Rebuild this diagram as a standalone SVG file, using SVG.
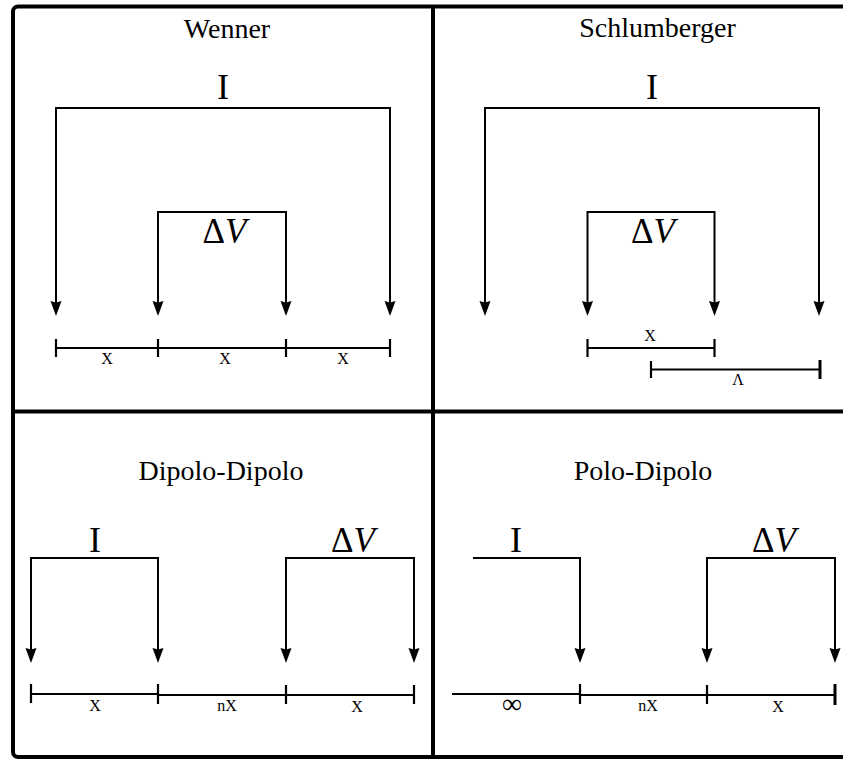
<svg xmlns="http://www.w3.org/2000/svg" width="843" height="759" viewBox="0 0 843 759">
<style>
.frame{fill:none;stroke:#000;stroke-width:4}
.wire{fill:none;stroke:#000;stroke-width:2}
.bar{fill:none;stroke:#000;stroke-width:2.2}
.title{font-family:"Liberation Serif","Times New Roman",serif;font-size:28px;text-anchor:middle;fill:#000}
.big{font-family:"Liberation Serif","Times New Roman",serif;font-size:36px;text-anchor:middle;fill:#000}
.dv{font-family:"Liberation Serif","Times New Roman",serif;font-size:35px;text-anchor:middle;fill:#000}
.lbl{font-family:"Liberation Serif","Times New Roman",serif;font-size:16px;text-anchor:middle;fill:#000}
</style>
<defs>
<marker id="ah" markerUnits="userSpaceOnUse" markerWidth="16" markerHeight="12" refX="9" refY="6" orient="auto-start-reverse" viewBox="0 0 16 12">
<path d="M0,0.5 L15,6 L0,11.5 L1.5,6 Z" fill="#000"/>
</marker>
</defs>
<g id="frame">
<rect class="frame" x="13" y="6.5" width="860" height="750.5" rx="5"/>
<line class="frame" x1="433" y1="6.5" x2="433" y2="757"/>
<line class="frame" x1="13" y1="411.5" x2="843" y2="411.5"/>
</g>
<g id="wenner">
<text class="title" x="227" y="38">Wenner</text>
<text class="big" x="223" y="99">I</text>
<text class="dv" x="224.5" y="243">Δ<tspan font-style="italic">V</tspan></text>
<text class="lbl" x="107" y="364">X</text>
<text class="lbl" x="225" y="364">X</text>
<text class="lbl" x="343" y="364">X</text>
</g>
<g id="schlumberger">
<text class="title" x="657.5" y="37">Schlumberger</text>
<text class="big" x="652" y="99">I</text>
<text class="dv" x="653" y="243">Δ<tspan font-style="italic">V</tspan></text>
<text class="lbl" x="650" y="341">X</text>
<text class="lbl" x="738" y="385">Λ</text>
</g>
<g id="dipolo-dipolo">
<text class="title" x="221" y="480">Dipolo-Dipolo</text>
<text class="big" x="95" y="552">I</text>
<text class="dv" x="353" y="552">Δ<tspan font-style="italic">V</tspan></text>
<text class="lbl" x="95" y="711">X</text>
<text class="lbl" x="227" y="711">nX</text>
<text class="lbl" x="357" y="712">X</text>
</g>
<g id="polo-dipolo">
<text class="title" x="643" y="480">Polo-Dipolo</text>
<text class="big" x="516" y="552">I</text>
<text class="dv" x="774" y="552">Δ<tspan font-style="italic">V</tspan></text>
<text class="lbl" x="512" y="713" style="font-size:28px">∞</text>
<text class="lbl" x="648" y="711">nX</text>
<text class="lbl" x="778" y="712">X</text>
</g>
<g id="connectors">
<path class="wire" d="M56,310 V108 H390 V310" marker-start="url(#ah)" marker-end="url(#ah)"/>
<path class="wire" d="M158,310 V212 H286 V310" marker-start="url(#ah)" marker-end="url(#ah)"/>
<path class="bar" d="M56,348 H390 M56,339 V357 M158,339 V357 M286,339 V357 M390,339 V357"/>
<path class="wire" d="M485,310 V108 H819 V310" marker-start="url(#ah)" marker-end="url(#ah)"/>
<path class="wire" d="M587.5,310 V212 H714.5 V310" marker-start="url(#ah)" marker-end="url(#ah)"/>
<path class="bar" d="M587.5,348 H714.5 M587.5,339 V357 M714.5,339 V357"/>
<path class="bar" d="M651,369.5 H820 M651,361 V378"/>
<path class="frame" d="M820,360 V379" style="stroke-width:3"/>
<path class="wire" d="M31,657 V558 H158 V657" marker-start="url(#ah)" marker-end="url(#ah)"/>
<path class="wire" d="M286,657 V558 H414 V657" marker-start="url(#ah)" marker-end="url(#ah)"/>
<path class="bar" d="M31,694 H158 M158,695 H414 M31,684 V703 M158,684 V704 M286,685 V704 M414,685 V704"/>
<path class="wire" d="M473,558 H580 V657" marker-end="url(#ah)"/>
<path class="wire" d="M707,657 V558 H835 V657" marker-start="url(#ah)" marker-end="url(#ah)"/>
<path class="bar" d="M452,694 H580 M580,695 H835 M580,684 V704 M707,685 V704"/>
<path class="frame" d="M835,684 V705" style="stroke-width:3"/>
</g>
</svg>
